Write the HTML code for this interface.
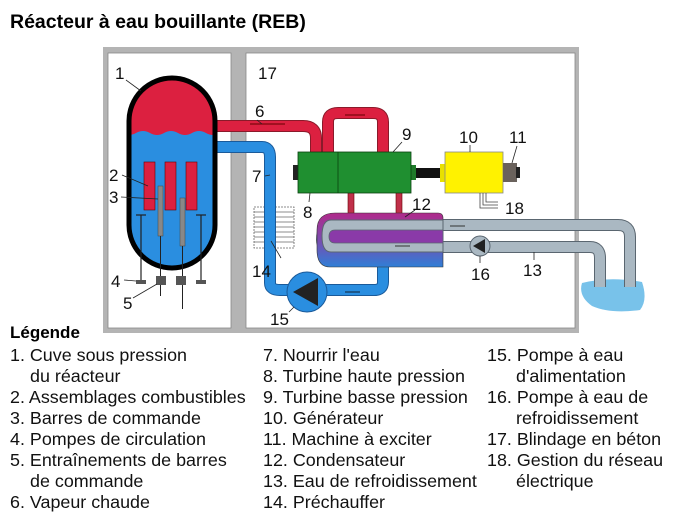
<!DOCTYPE html>
<html><head><meta charset="utf-8"><style>
html,body{margin:0;padding:0;background:#fff;}
svg{display:block;font-family:"Liberation Sans",Arial,sans-serif;}
</style></head><body>
<svg width="677" height="520" viewBox="0 0 677 520" xmlns="http://www.w3.org/2000/svg">
<defs>
<linearGradient id="cond" x1="0" y1="0" x2="0" y2="1">
<stop offset="0" stop-color="#b02a8a"/><stop offset="0.5" stop-color="#7a4bb0"/><stop offset="1" stop-color="#2f7fd6"/></linearGradient>
</defs>
<text x="10" y="28" font-size="19.5" font-weight="bold">Réacteur à eau bouillante (REB)</text>
<rect x="103" y="47" width="476" height="286" fill="#b4b4b4"/>
<rect x="108" y="53" width="123" height="275" fill="#fff" stroke="#888" stroke-width="0.8"/>
<rect x="246" y="53" width="329" height="275" fill="#fff" stroke="#888" stroke-width="0.8"/>
<path d="M582 283 Q610 276 642 282 Q648 300 640 310 Q610 314 592 306 Q578 296 582 283Z" fill="#78c2ea"/>
<path d="M438 225 H618 Q630 225 630 237 V287" fill="none" stroke="#5a6670" stroke-width="12"/>
<path d="M438 225 H618 Q630 225 630 237 V287" fill="none" stroke="#aab8c2" stroke-width="10"/>
<path d="M600 287 V258 Q600 247 590 247 H330 Q322 247 322 240 Q322 225 332 225 H440" fill="none" stroke="#5a6670" stroke-width="12"/>
<path d="M600 287 V258 Q600 247 590 247 H330 Q322 247 322 240 Q322 225 332 225 H440" fill="none" stroke="#aab8c2" stroke-width="10"/>
<g stroke="#666" stroke-width="0.8">
<rect x="254" y="207" width="40" height="41" fill="#fff" stroke-dasharray="2,1"/>
<line x1="254" y1="212" x2="294" y2="212"/><line x1="254" y1="217" x2="294" y2="217"/><line x1="254" y1="222" x2="294" y2="222"/><line x1="254" y1="227" x2="294" y2="227"/><line x1="254" y1="232" x2="294" y2="232"/><line x1="254" y1="237" x2="294" y2="237"/><line x1="254" y1="242" x2="294" y2="242"/></g>
<path d="M212 147 H262 Q270 147 270 157 V283 Q270 290 280 290 H302" fill="none" stroke="#1a5a9a" stroke-width="12"/>
<path d="M212 147 H262 Q270 147 270 157 V283 Q270 290 280 290 H302" fill="none" stroke="#2a8ee0" stroke-width="10"/>
<path d="M383 262 V282 Q383 290 374 290 H300" fill="none" stroke="#1a5a9a" stroke-width="12"/>
<path d="M383 262 V282 Q383 290 374 290 H300" fill="none" stroke="#2a8ee0" stroke-width="10"/>
<line x1="360" y1="292" x2="345" y2="292" stroke="#123" stroke-width="1"/>
<path d="M212 126 H303 Q316 126 316 138 V153" fill="none" stroke="#8a1a2a" stroke-width="12"/>
<path d="M212 126 H303 Q316 126 316 138 V153" fill="none" stroke="#dc2040" stroke-width="10"/>
<line x1="250" y1="124" x2="285" y2="124" stroke="#600" stroke-width="1"/>
<path d="M328 153 V122 Q328 113 338 113 H373 Q383 113 383 122 V153" fill="none" stroke="#8a1a2a" stroke-width="12"/>
<path d="M328 153 V122 Q328 113 338 113 H373 Q383 113 383 122 V153" fill="none" stroke="#dc2040" stroke-width="10"/>
<line x1="345" y1="115" x2="365" y2="115" stroke="#600" stroke-width="1"/>
<rect x="348" y="192" width="6" height="22" fill="#c0304a" stroke="#600" stroke-width="0.6"/>
<rect x="396" y="192" width="6" height="22" fill="#c0304a" stroke="#600" stroke-width="0.6"/>
<path d="M335 213 H438 Q443 213 443 218 V267 H330 Q317 267 317 250 V230 Q317 213 335 213Z" fill="url(#cond)" stroke="#333" stroke-width="0.6"/>
<path d="M331 220 H443 V252 H331 Q322 252 322 236 Q322 220 331 220Z" fill="#aab8c2" stroke="#5a6670" stroke-width="1"/>
<path d="M335 230 H443 V243 H335 Q329 243 329 236.5 Q329 230 335 230Z" fill="#8a3aa8" stroke="#5a6670" stroke-width="0.8"/>
<line x1="450" y1="226" x2="465" y2="226" stroke="#333" stroke-width="1"/>
<line x1="410" y1="246" x2="395" y2="246" stroke="#333" stroke-width="1"/>
<circle cx="480" cy="246" r="10" fill="#aab8c2" stroke="#5a6670" stroke-width="1"/>
<polygon points="473,246 485,239 485,253" fill="#222"/>
<circle cx="307" cy="292" r="20" fill="#2a8ee0" stroke="#1a5a9a" stroke-width="1"/>
<polygon points="293,292 318,278 318,306" fill="#222"/>
<rect x="293" y="165" width="6" height="15" fill="#222"/>
<rect x="410" y="165" width="6" height="15" fill="#1f7a2a"/>
<rect x="298" y="152" width="113" height="41" fill="#1f8f30" stroke="#0a4010" stroke-width="0.8"/>
<line x1="338" y1="152" x2="338" y2="193" stroke="#0a4010" stroke-width="0.8"/>
<rect x="416" y="168" width="29" height="10" fill="#111"/>
<rect x="440" y="164" width="6" height="18" fill="#e8e000"/>
<rect x="445" y="152" width="58" height="41" fill="#fff200" stroke="#888" stroke-width="0.8"/>
<rect x="503" y="163" width="14" height="19" fill="#6a625c"/>
<rect x="516" y="167" width="4" height="11" fill="#222"/>
<path d="M480 193 V208 H498 M483 193 V205 H498 M486 193 V202 H498" fill="none" stroke="#444" stroke-width="0.8"/>
<clipPath id="vc"><rect x="129" y="78" width="86" height="190" rx="43"/></clipPath>
<g clip-path="url(#vc)">
<rect x="120" y="70" width="100" height="200" fill="#2a8ee0"/>
<path d="M120 70 H220 V133 Q213 137 206 133 T192 133 T178 133 T164 133 T150 133 T136 133 T120 133Z" fill="#dc2040"/>
</g>
<rect x="129" y="78" width="86" height="190" rx="43" fill="none" stroke="#000" stroke-width="5"/>
<g fill="#dc2040" stroke="#600" stroke-width="0.6">
<rect x="144" y="162" width="11" height="48"/><rect x="165" y="162" width="11" height="48"/><rect x="186" y="162" width="11" height="48"/></g>
<rect x="158" y="186" width="5" height="50" fill="#888" stroke="#444" stroke-width="0.5"/>
<rect x="180" y="198" width="5" height="48" fill="#888" stroke="#444" stroke-width="0.5"/>
<line x1="160.5" y1="236" x2="160.5" y2="296" stroke="#222"/>
<line x1="182.5" y1="246" x2="182.5" y2="309" stroke="#222"/>
<g stroke="#222" stroke-width="1.2"><line x1="136" y1="215" x2="146" y2="215"/><line x1="141" y1="215" x2="141" y2="282"/><line x1="196" y1="215" x2="206" y2="215"/><line x1="201" y1="215" x2="201" y2="282"/></g>
<rect x="136" y="280" width="10" height="4" fill="#555"/><rect x="196" y="280" width="10" height="4" fill="#555"/>
<rect x="156" y="276" width="10" height="9" fill="#555"/><rect x="176" y="276" width="10" height="9" fill="#555"/>
<g stroke="#222" stroke-width="0.8">
<line x1="126" y1="80" x2="141" y2="91"/><line x1="122" y1="175" x2="148" y2="186"/><line x1="121" y1="197" x2="158" y2="199"/><line x1="124" y1="280" x2="136" y2="281"/><line x1="133" y1="298" x2="157" y2="284"/>
<line x1="257" y1="120" x2="262" y2="124"/><line x1="265" y1="176" x2="270" y2="175"/><line x1="309" y1="202" x2="310" y2="193"/><line x1="402" y1="142" x2="393" y2="152"/>
<line x1="470" y1="145" x2="470" y2="152"/><line x1="517" y1="146" x2="512" y2="163"/><line x1="415" y1="210" x2="405" y2="217"/><line x1="281" y1="258" x2="271" y2="241"/>
<line x1="289" y1="312" x2="294" y2="307"/><line x1="480" y1="256" x2="480" y2="263"/><line x1="534" y1="260" x2="534" y2="252"/></g>
<g font-size="17" fill="#111">
<text x="115" y="79">1</text><text x="109" y="181">2</text><text x="109" y="203">3</text><text x="111" y="287">4</text><text x="123" y="309">5</text>
<text x="258" y="79">17</text><text x="255" y="117">6</text><text x="252" y="182">7</text><text x="303" y="218">8</text><text x="402" y="140">9</text>
<text x="459" y="143">10</text><text x="509" y="143">11</text><text x="505" y="214">18</text><text x="412" y="210">12</text><text x="523" y="276">13</text>
<text x="252" y="277">14</text><text x="471" y="280">16</text><text x="270" y="325">15</text>
</g>
<text x="10" y="338" font-size="17" font-weight="bold">Légende</text>
<g font-size="17.9" fill="#111">
<text x="10" y="361">1. Cuve sous pression</text>
<text x="30" y="382">du réacteur</text>
<text x="10" y="403">2. Assemblages combustibles</text>
<text x="10" y="424">3. Barres de commande</text>
<text x="10" y="445">4. Pompes de circulation</text>
<text x="10" y="466">5. Entraînements de barres</text>
<text x="30" y="487">de commande</text>
<text x="10" y="508">6. Vapeur chaude</text>
<text x="263" y="361">7. Nourrir l'eau</text>
<text x="263" y="382">8. Turbine haute pression</text>
<text x="263" y="403">9. Turbine basse pression</text>
<text x="263" y="424">10. Générateur</text>
<text x="263" y="445">11. Machine à exciter</text>
<text x="263" y="466">12. Condensateur</text>
<text x="263" y="487">13. Eau de refroidissement</text>
<text x="263" y="508">14. Préchauffer</text>
<text x="487" y="361">15. Pompe à eau</text>
<text x="516" y="382">d'alimentation</text>
<text x="487" y="403">16. Pompe à eau de</text>
<text x="516" y="424">refroidissement</text>
<text x="487" y="445">17. Blindage en béton</text>
<text x="487" y="466">18. Gestion du réseau</text>
<text x="516" y="487">électrique</text>
</g>
</svg>
</body></html>
